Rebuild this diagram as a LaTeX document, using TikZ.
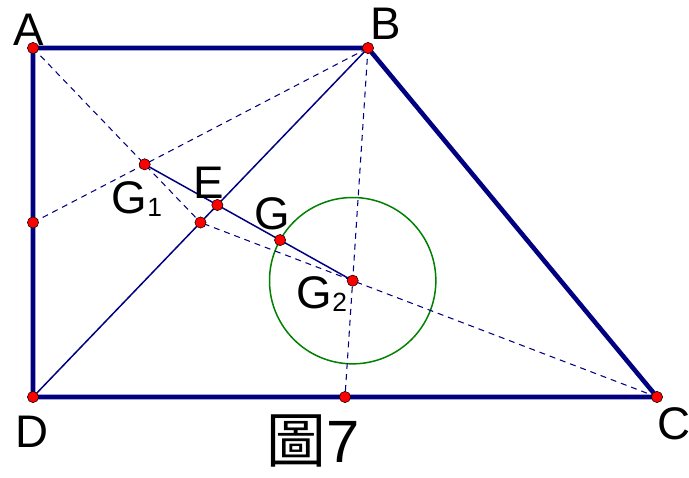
\documentclass[tikz,border=0pt]{standalone}
\usepackage{fontspec}
\setmainfont{Liberation Sans}
\newfontfamily\cjk{Noto Sans CJK TC}
\usetikzlibrary{calc, intersections}
\definecolor{Navy}{HTML}{000080}
\definecolor{Circ}{HTML}{008000}
\tikzset{
    side/.style={line width=2.6pt, color=Navy, line join=miter},
    seg/.style={line width=0.85pt, color=Navy},
    aux/.style={line width=0.6pt, color=Navy, dash pattern=on 3.4pt off 2.8pt},
    pt/.style={circle, fill=red, draw=black, line width=0.3pt, inner sep=0pt, minimum size=6.4pt},
    lbl/.style={font=\fontsize{26}{26}\selectfont, inner sep=0pt},
}
\begin{document}
\begin{tikzpicture}[x=0.02cm, y=-0.02cm]
        \useasboundingbox (0,0) rectangle (689,477);
        % vertices
        \coordinate (A) at (33,48);
        \coordinate (B) at (368,48);
        \coordinate (C) at (657,397);
        \coordinate (D) at (33,397);
        \coordinate (mAD) at ($(A)!0.5!(D)$);
        \coordinate (mBD) at ($(B)!0.5!(D)$);
        \coordinate (mDC) at ($(D)!0.5!(C)$);
        \coordinate (G1) at ($(A)!2/3!(mBD)$);
        \coordinate (G2) at ($(C)!2/3!(mBD)$);
        \coordinate (G) at ($(G1)!0.651!(G2)$);
        \coordinate (E) at (intersection of G1--G2 and B--D);

        % circle
        \draw[Circ, line width=0.85pt] let \p1=($(G)-(G2)$) in (G2) circle ({veclen(\x1,\y1)});

        % medians
        \draw[aux] (A) -- (mBD);
        \draw[aux] (mAD) -- (B);
        \draw[aux] (C) -- (mBD);
        \draw[aux] (B) -- (mDC);

        \draw[seg] (B) -- (D);
        \draw[seg] (G1) -- (G2);
        \draw[side] (A) -- (B) -- (C) -- (D) -- cycle;

        \foreach \p in {A,B,C,D,mAD,mBD,mDC,G1,G2,G,E}
            \node[pt] (dot\p) at (\p) {};

        \node[lbl] (lA) at (29,30) {A};
        \node[lbl] (lB) at (386,24) {B};
        \node[lbl] (lC) at (674,424) {C};
        \node[lbl] (lD) at (32,432) {D};
        \node[lbl] (lE) at (209,183) {E};
        \node[lbl] (lG) at (272,214) {G};
        \node[lbl] (lG1) at (137,199) {G\raisebox{-2pt}{\fontsize{15}{15}\selectfont 1}};
        \node[lbl] (lG2) at (322,294) {G\raisebox{-2pt}{\fontsize{15}{15}\selectfont 2}};
        \node[font=\fontsize{34}{34}\selectfont, inner sep=0pt] (cap) at (313,441) {{\cjk 圖}7};
    \end{tikzpicture}
\end{document}
